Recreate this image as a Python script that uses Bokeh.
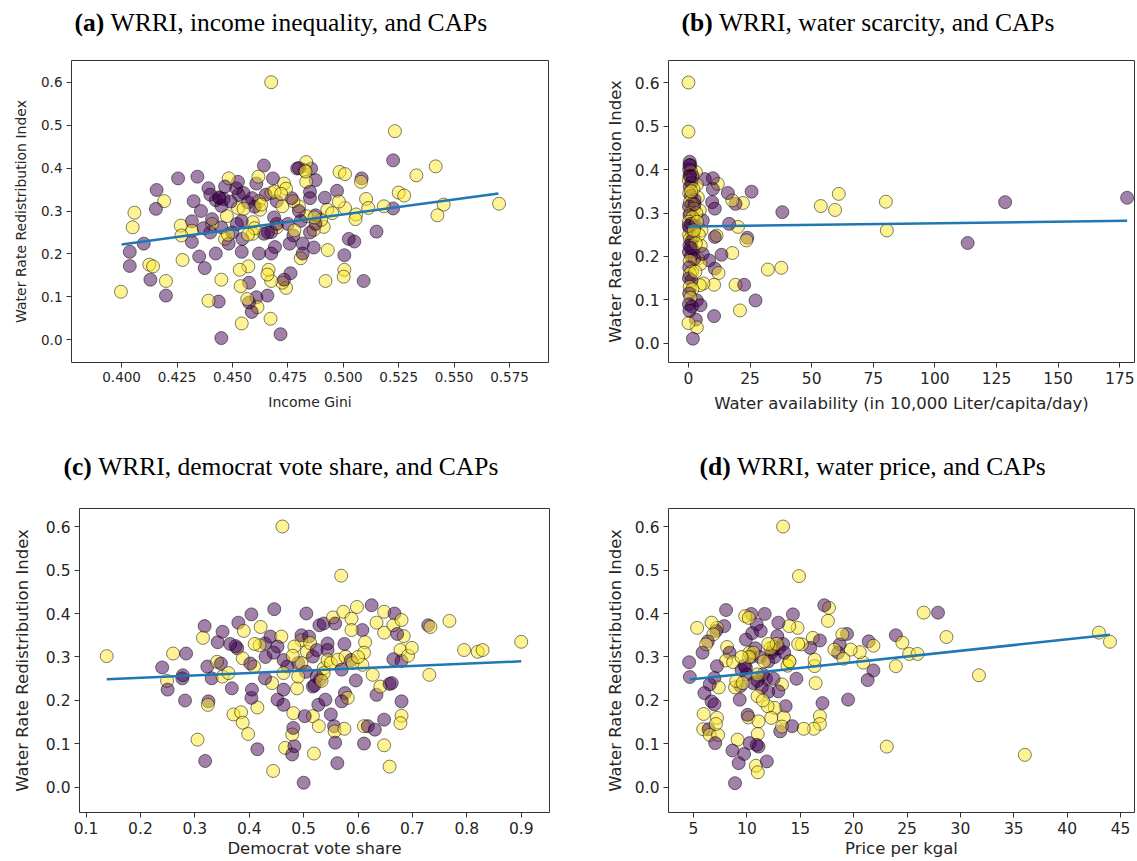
from bokeh.plotting import figure
from bokeh.layouts import column, row
from bokeh.models import ColumnDataSource, Range1d, FixedTicker, PrintfTickFormatter
from bokeh.core.properties import value
from bokeh.embed import file_html
from bokeh.resources import INLINE

# ---------------- DATA ----------------
# cap flag: 1 = city with CAP (yellow), 0 = no CAP (purple)
a_x = [0.4675,0.5233,0.5225,0.5417,0.5330,0.5250,0.5275,0.5453,0.5425,0.5703,0.5225,0.5150,0.5183,0.5103,0.5113,0.5083,0.5080,0.4983,0.5008,0.5008,0.5058,0.5055,0.5025,0.5050,0.5005,0.5005,0.5002,0.5092,0.4920,0.4930,0.4928,0.4917,0.4972,0.4980,0.4912,0.4900,0.4867,0.4867,0.4875,0.4875,0.4855,0.4833,0.4825,0.4792,0.4833,0.4850,0.4850,0.4833,0.4808,0.4800,0.4775,0.4767,0.4775,0.4758,0.4817,0.4808,0.4817,0.4762,0.4742,0.4725,0.4733,0.4717,0.4675,0.4663,0.4658,0.4672,0.4658,0.4675,0.4683,0.4733,0.4742,0.4700,0.4725,0.4688,0.4700,0.4675,0.4692,0.4675,0.4642,0.4642,0.4608,0.4617,0.4620,0.4625,0.4588,0.4592,0.4592,0.4620,0.4608,0.4613,0.4587,0.4575,0.4567,0.4575,0.4572,0.4533,0.4537,0.4542,0.4542,0.4545,0.4542,0.4525,0.4528,0.4517,0.4525,0.4483,0.4467,0.4442,0.4475,0.4450,0.4467,0.4483,0.4450,0.4438,0.4392,0.4450,0.4425,0.4392,0.4400,0.4408,0.4408,0.4358,0.4342,0.4325,0.4317,0.4350,0.4375,0.4317,0.4317,0.4267,0.4270,0.4255,0.4275,0.4200,0.4200,0.4192,0.4158,0.4155,0.4125,0.4142,0.4130,0.4100,0.4058,0.4050,0.4037,0.4037,0.3997,
       0.4425,0.4450,0.4492,0.4550,0.4570,0.4600,0.4650,0.4700,0.4660,0.4750,0.4800,0.4850,0.4875,0.4400,0.4370,0.4500,0.4520,0.4440,0.4460,0.4800,0.4830,0.4690,0.4720,0.4630,0.4550,0.4480,0.4600,0.4780,0.4870,0.4950,0.4570]
a_y = [0.600,0.486,0.418,0.404,0.383,0.343,0.336,0.315,0.290,0.317,0.306,0.252,0.311,0.328,0.307,0.376,0.368,0.391,0.386,0.307,0.292,0.281,0.235,0.229,0.197,0.163,0.147,0.137,0.137,0.209,0.303,0.331,0.347,0.322,0.263,0.279,0.215,0.256,0.290,0.372,0.399,0.414,0.395,0.399,0.368,0.345,0.330,0.288,0.277,0.311,0.323,0.330,0.243,0.224,0.224,0.190,0.201,0.155,0.121,0.133,0.140,0.013,0.137,0.163,0.152,0.049,0.103,0.342,0.376,0.364,0.352,0.323,0.311,0.285,0.262,0.251,0.216,0.201,0.247,0.406,0.364,0.380,0.323,0.303,0.330,0.274,0.247,0.201,0.099,0.076,0.065,0.087,0.095,0.133,0.171,0.163,0.125,0.038,0.205,0.235,0.277,0.307,0.338,0.353,0.368,0.376,0.357,0.330,0.288,0.262,0.235,0.224,0.140,0.089,0.091,0.004,0.201,0.353,0.338,0.270,0.281,0.300,0.380,0.323,0.276,0.194,0.167,0.254,0.228,0.266,0.243,0.376,0.186,0.137,0.103,0.323,0.349,0.305,0.175,0.171,0.140,0.224,0.296,0.262,0.205,0.172,0.112,
       0.325,0.312,0.322,0.342,0.320,0.310,0.338,0.270,0.250,0.270,0.300,0.250,0.270,0.250,0.260,0.250,0.270,0.332,0.328,0.400,0.392,0.345,0.340,0.315,0.305,0.245,0.260,0.255,0.285,0.295,0.245]
a_cap = [1,1,0,1,1,1,1,1,1,1,0,0,1,1,1,0,1,1,1,1,1,1,0,0,0,1,1,0,1,1,1,0,0,1,1,1,0,1,0,0,0,1,1,0,1,0,0,1,0,1,1,0,0,0,0,1,0,0,1,1,0,0,1,1,1,1,0,1,0,1,1,0,1,0,1,0,0,0,0,0,0,1,1,1,0,1,1,0,0,1,0,0,1,0,1,1,1,1,0,0,0,1,0,0,0,1,0,0,1,0,1,0,1,0,1,0,0,0,0,1,0,0,0,0,0,0,0,1,0,1,1,0,1,1,0,1,0,0,1,1,0,0,1,1,0,0,1,
         0,0,0,0,0,0,0,0,0,0,0,0,0,0,0,0,0,0,0,0,1,1,1,1,1,1,1,1,1,1,1]

b_x = [0,0,178,128.5,113.3,80.1,80.5,61,59.5,53.7,38.1,37.7,32.2,27.2,20.9,25.6,22.1,23.9,23.5,20.1,19.1,17.8,16,16.5,17.8,13.4,19.1,22.6,11.9,9.9,9.9,9.6,10.7,11.4,10.7,8.4,10.7,12.2,10.4,10.4,6.6,3.0,3.4,3.8,4.6,5.8,5.3,5.0,3.8,4.9,5.8,6.1,4.6,3.4,4.9,3.0,3.4,1.8,0,
       0.5,0.8,0.3,1.0,0.4,0.2,1.2,0.5,2.0,0.3,1.0,2.5,0.6,1.5,0.2,2.2,0.8,3.2,0.4,1.6,0.2,1.0,2.6,0.5,1.4,0.3,2.0,0.6,1.2,0.4,1.8,0.2,1.0,2.4,0.5,0.3,1.4,0.6,0.2,1.2,0.5,1.6,0.3,0.8,0.2,1.4,0.4,2.4,3.5,4.2,3.0,2.8,0.7,1.1,0.9,0.1,2.2,1.7,0.4]
b_y = [0.600,0.487,0.335,0.325,0.231,0.326,0.260,0.344,0.307,0.316,0.302,0.174,0.170,0.099,0.076,0.349,0.323,0.243,0.237,0.268,0.321,0.329,0.346,0.275,0.208,0.204,0.135,0.135,0.367,0.380,0.355,0.325,0.310,0.248,0.245,0.191,0.172,0.162,0.135,0.063,0.378,0.394,0.365,0.336,0.306,0.283,0.260,0.225,0.195,0.183,0.206,0.138,0.134,0.099,0.088,0.055,0.037,0.011,0.047,
       0.418,0.410,0.400,0.395,0.385,0.375,0.370,0.360,0.355,0.345,0.340,0.330,0.325,0.320,0.315,0.310,0.300,0.300,0.295,0.290,0.280,0.275,0.270,0.265,0.255,0.250,0.245,0.240,0.235,0.225,0.215,0.210,0.200,0.195,0.190,0.175,0.165,0.160,0.150,0.145,0.130,0.125,0.115,0.105,0.090,0.085,0.075,0.320,0.280,0.250,0.230,0.165,0.385,0.350,0.220,0.270,0.260,0.385,0.410]
b_cap = [1,1,0,0,0,1,1,1,1,1,0,1,1,0,1,0,1,0,1,1,0,1,0,0,1,0,1,0,1,0,0,0,0,1,0,0,0,1,1,0,0,1,1,1,1,0,1,1,1,1,0,1,1,0,0,0,1,0,1,
         0,0,0,1,0,1,0,0,1,1,0,0,1,1,0,1,1,1,0,1,1,0,0,0,1,1,0,1,0,0,0,0,0,0,1,0,1,1,0,0,1,1,0,1,0,0,0,0,1,1,1,1,0,1,0,0,1,0,0]

c_x = [0.461,0.569,0.138,0.240,0.260,0.284,0.249,0.250,0.277,0.278,0.282,0.305,0.319,0.325,0.324,0.318,0.315,0.323,0.331,0.341,0.342,0.351,0.351,0.368,0.371,0.385,0.388,0.398,0.415,0.415,0.404,0.405,0.404,0.380,0.421,0.446,0.444,0.466,0.483,0.479,0.479,0.481,0.481,0.452,0.463,0.463,0.442,0.488,0.500,0.519,0.505,0.529,0.496,0.496,0.506,0.517,0.517,0.502,0.528,0.527,0.540,0.530,0.517,0.537,0.544,0.537,0.554,0.558,0.573,0.598,0.625,0.608,0.588,0.588,0.613,0.611,0.608,0.627,0.596,0.576,0.581,0.570,0.550,0.556,0.557,0.575,0.558,0.562,0.611,0.618,0.611,0.648,0.658,0.648,0.631,0.634,0.641,0.658,0.662,0.680,0.678,0.680,0.648,0.648,0.634,0.667,0.665,0.680,0.684,0.672,0.678,0.665,0.680,0.692,0.699,0.729,0.733,0.731,0.768,0.795,0.820,0.829,0.900,
       0.378,0.375,0.390,0.388,0.429,0.419,0.439,0.459,0.452,0.463,0.470,0.463,0.409,0.402,0.348,0.362,0.429,0.483,0.490,0.496,0.510,0.512,0.524,0.544,0.544,0.550,0.563,0.577,0.587,0.590,0.570,0.537,0.524,0.504,0.490,0.430,0.445,0.410,0.365,0.520,0.533,0.480,0.600,0.575]
c_y = [0.600,0.487,0.302,0.276,0.308,0.308,0.245,0.225,0.251,0.258,0.200,0.110,0.061,0.198,0.190,0.371,0.344,0.278,0.251,0.289,0.334,0.358,0.255,0.228,0.168,0.173,0.149,0.123,0.088,0.184,0.206,0.225,0.398,0.379,0.369,0.410,0.038,0.091,0.095,0.076,0.122,0.137,0.171,0.202,0.190,0.225,0.240,0.228,0.011,0.078,0.400,0.373,0.339,0.350,0.312,0.301,0.164,0.164,0.141,0.190,0.202,0.248,0.232,0.274,0.331,0.377,0.391,0.377,0.404,0.415,0.419,0.362,0.388,0.362,0.334,0.310,0.282,0.259,0.246,0.217,0.206,0.198,0.168,0.141,0.129,0.135,0.103,0.056,0.141,0.141,0.101,0.097,0.048,0.156,0.133,0.213,0.232,0.238,0.240,0.165,0.148,0.198,0.404,0.356,0.379,0.400,0.373,0.385,0.348,0.353,0.316,0.295,0.291,0.303,0.321,0.373,0.369,0.259,0.383,0.316,0.312,0.316,0.335,
       0.320,0.325,0.360,0.297,0.331,0.327,0.347,0.347,0.324,0.293,0.278,0.263,0.278,0.285,0.285,0.263,0.251,0.324,0.286,0.286,0.347,0.332,0.316,0.316,0.293,0.286,0.294,0.301,0.293,0.286,0.271,0.263,0.255,0.266,0.255,0.300,0.310,0.330,0.330,0.235,0.245,0.303,0.300,0.330]
c_cap = [1,1,1,0,1,0,1,0,0,0,0,1,0,0,1,0,1,0,0,1,0,0,1,0,1,1,1,1,0,1,0,0,0,0,1,0,1,1,0,0,1,0,1,0,0,0,1,1,0,1,0,0,1,0,1,0,1,0,1,0,0,0,0,1,0,0,1,0,1,1,0,0,1,1,1,1,1,1,0,0,1,0,0,0,1,1,0,0,1,0,0,1,1,0,0,0,1,0,0,1,1,0,1,1,1,0,1,1,1,0,1,0,0,1,1,0,1,1,1,1,1,1,1,
         0,0,1,1,0,1,0,1,0,0,0,1,1,0,0,1,0,1,0,1,0,1,0,0,1,1,1,1,0,1,0,1,0,0,1,0,0,1,0,0,1,1,1,0]

d_x = [13.39,14.88,36.03,23.10,31.73,42.97,44.00,27.90,26.56,28.69,23.95,24.56,25.20,25.98,23.95,21.85,21.41,21.31,21.85,20.90,20.57,19.72,19.48,19.38,18.94,18.70,18.54,18.20,19.04,17.59,17.69,17.25,17.08,16.84,16.84,16.27,15.32,16.44,16.34,16.34,16.17,16.84,15.93,15.15,14.75,14.31,13.97,14.64,13.97,13.63,13.46,13.12,13.29,14.24,12.61,11.94,12.28,12.95,12.85,12.44,12.51,13.29,12.95,11.67,10.92,10.41,9.84,10.18,9.91,10.25,9.91,9.40,9.33,10.14,10.07,11.09,11.02,11.09,10.92,10.85,11.02,11.87,10.25,9.74,9.23,9.13,8.89,8.65,8.89,8.05,8.15,8.38,8.05,8.72,7.88,7.20,7.13,6.69,6.86,6.35,6.18,5.85,5.34,4.59,4.66,7.20,6.96,7.37,6.52,6.02,6.69,6.96,5.95,5.91,6.42,6.52,7.30,7.20,7.10,7.03,
       9.5,9.8,10.0,10.4,10.8,11.2,11.5,11.8,12.0,12.3,12.6,13.0,13.4,10.6,11.0,11.4,12.0,12.5,9.0,9.6,10.6,11.0,11.6,12.2,12.8,13.8,14.0,10.2,11.0,11.5,10.5,11.3,12.0,9.5,13.5,14.8]
d_y = [0.600,0.486,0.075,0.094,0.258,0.356,0.335,0.402,0.402,0.346,0.350,0.333,0.307,0.307,0.279,0.269,0.336,0.247,0.326,0.287,0.311,0.317,0.202,0.353,0.352,0.329,0.310,0.317,0.296,0.383,0.413,0.419,0.194,0.164,0.146,0.135,0.135,0.240,0.279,0.294,0.344,0.338,0.321,0.329,0.367,0.398,0.371,0.250,0.290,0.187,0.161,0.129,0.140,0.141,0.183,0.187,0.160,0.379,0.348,0.317,0.323,0.237,0.221,0.399,0.375,0.399,0.394,0.390,0.340,0.310,0.275,0.233,0.202,0.161,0.167,0.152,0.123,0.094,0.098,0.050,0.035,0.060,0.102,0.077,0.056,0.110,0.010,0.085,0.230,0.408,0.323,0.310,0.292,0.288,0.371,0.367,0.360,0.379,0.352,0.336,0.329,0.310,0.367,0.288,0.254,0.279,0.252,0.230,0.237,0.217,0.198,0.191,0.169,0.134,0.134,0.121,0.121,0.160,0.146,0.102,
       0.270,0.280,0.260,0.300,0.320,0.300,0.260,0.250,0.290,0.310,0.300,0.320,0.330,0.240,0.245,0.230,0.220,0.250,0.245,0.240,0.310,0.260,0.290,0.320,0.330,0.280,0.290,0.300,0.210,0.200,0.355,0.360,0.330,0.300,0.310,0.330]
d_cap = [1,1,1,1,1,1,1,0,1,1,0,1,1,1,1,0,0,0,1,1,1,1,0,0,1,0,0,1,1,1,1,0,0,1,1,1,1,1,1,1,1,0,0,1,1,0,1,0,1,0,1,0,1,0,1,1,1,0,0,0,1,1,0,0,0,0,1,1,0,1,0,0,0,1,0,1,1,0,0,1,1,0,0,0,0,1,0,0,1,0,1,0,1,1,0,1,0,1,1,0,1,0,1,0,0,0,0,1,0,0,0,0,1,1,0,1,1,1,1,0,
         0,0,0,0,0,0,0,0,0,0,0,0,0,0,0,0,0,0,1,1,1,1,1,1,1,1,1,1,1,1,0,0,1,1,0,1]

# fitted regression lines
a_fit_x = [0.400, 0.570]; a_fit_y = [0.222, 0.341]
b_fit_x = [0.0, 178.0];   b_fit_y = [0.269, 0.282]
c_fit_x = [0.138, 0.900]; c_fit_y = [0.249, 0.290]
d_fit_x = [4.66, 44.0];   d_fit_y = [0.248, 0.351]

y_ticks = [0.0, 0.1, 0.2, 0.3, 0.4, 0.5, 0.6]
a_ticks = [0.400, 0.425, 0.450, 0.475, 0.500, 0.525, 0.550, 0.575]
b_ticks = [0, 25, 50, 75, 100, 125, 150, 175]
c_ticks = [0.1, 0.2, 0.3, 0.4, 0.5, 0.6, 0.7, 0.8, 0.9]
d_ticks = [5, 10, 15, 20, 25, 30, 35, 40, 45]

y_label = "Water Rate Redistribution Index"
title_tags = ["(a)", "(b)", "(c)", "(d)"]
title_texts = ["WRRI, income inequality, and CAPs",
               "WRRI, water scarcity, and CAPs",
               "WRRI, democrat vote share, and CAPs",
               "WRRI, water price, and CAPs"]
x_labels = ["Income Gini", "Water availability (in 10,000 Liter/capita/day)",
            "Democrat vote share", "Price per kgal"]

# ---------------- STYLE ----------------
PURPLE = "#440154"
YELLOW = "#fde725"
TXT = "#262626"
SANS = "DejaVu Sans"
SERIF = "Liberation Serif"
TFS = "25.5px"


def title_strip(w, h, tag, text, x_tag, x_text, base_y):
    t = figure(width=w, height=h, x_range=Range1d(0, w), y_range=Range1d(0, h),
               output_backend="svg", toolbar_location=None, title=None,
               x_axis_type=None, y_axis_type=None,
               min_border_left=0, min_border_right=0, min_border_top=0, min_border_bottom=0)
    t.outline_line_color = None
    t.xgrid.visible = False
    t.ygrid.visible = False
    t.text(x=[x_tag], y=[base_y], text=[tag], text_font=value(SERIF), text_font_size=value(TFS),
           text_font_style="bold", text_color="black", text_align="left", text_baseline="alphabetic")
    t.text(x=[x_text], y=[base_y], text=[text], text_font=value(SERIF), text_font_size=value(TFS),
           text_font_style="normal", text_color="black", text_align="left", text_baseline="alphabetic")
    return t


def panel(xs, ys, caps, fx, fy, xr, yr, xticks, xfmt, w, h, bl, br, bt, bb,
          tick_fs, lab_fs, xlabel, ylab_standoff, xlab_standoff):
    p = figure(width=w, height=h, x_range=Range1d(*xr), y_range=Range1d(*yr),
               output_backend="svg", toolbar_location=None,
               min_border_left=bl, min_border_right=br, min_border_top=bt, min_border_bottom=bb)
    p.title.visible = False
    p.outline_line_color = "#333333"
    p.outline_line_width = 1
    p.xgrid.visible = False
    p.ygrid.visible = False
    src = ColumnDataSource(dict(x=xs, y=ys, c=[YELLOW if k else PURPLE for k in caps]))
    p.scatter("x", "y", source=src, size=13, fill_color="c", fill_alpha=0.5,
              line_color="black", line_alpha=0.5, line_width=1)
    p.line(fx, fy, line_color="#1f77b4", line_width=2.5)

    p.xaxis.ticker = FixedTicker(ticks=xticks)
    p.xaxis.formatter = PrintfTickFormatter(format=xfmt)
    p.yaxis.ticker = FixedTicker(ticks=y_ticks)
    p.yaxis.formatter = PrintfTickFormatter(format="%.1f")
    for ax in (p.xaxis[0], p.yaxis[0]):
        ax.axis_line_color = None
        ax.major_tick_line_color = "#333333"
        ax.major_tick_out = 5
        ax.major_tick_in = 0
        ax.minor_tick_line_color = None
        ax.major_label_text_font = SANS
        ax.major_label_text_font_size = tick_fs
        ax.major_label_text_color = TXT
        ax.axis_label_text_font = SANS
        ax.axis_label_text_font_size = lab_fs
        ax.axis_label_text_font_style = "normal"
        ax.axis_label_text_color = TXT
        ax.major_label_standoff = 4
    p.xaxis.axis_label = xlabel
    p.yaxis.axis_label = y_label
    p.yaxis.axis_label_standoff = ylab_standoff
    p.xaxis.axis_label_standoff = xlab_standoff
    return p


# title strips
ta = title_strip(570, 40, title_tags[0], title_texts[0], 74, 110.1, 18)
tb = title_strip(566, 40, title_tags[1], title_texts[1], 111, 148.5, 18)
tc = title_strip(570, 54, title_tags[2], title_texts[2], 63, 97.7, 18)
td = title_strip(566, 54, title_tags[3], title_texts[3], 129, 166.5, 18)

# panels (frames: a 71..548 x 60..367 ; b 668..1134 x 60..362 ; c 79..549 x 508..812 ; d 668..1134 x 508..812)
pa = panel(a_x, a_y, a_cap, a_fit_x, a_fit_y, (0.3774, 0.5926), (-0.0529, 0.6506), a_ticks, "%.3f",
           570, 390, 71, 22, 20, 63, "13.5px", "14px", x_labels[0], 9, 9)
pb = panel(b_x, b_y, b_cap, b_fit_x, b_fit_y, (-8.1, 181.0), (-0.0437, 0.6506), b_ticks, "%d",
           566, 390, 98, 2, 20, 68, "15.5px", "16.5px", x_labels[1], 7, 7)
pc = panel(c_x, c_y, c_cap, c_fit_x, c_fit_y, (0.088, 0.952), (-0.0575, 0.6414), c_ticks, "%.1f",
           570, 376, 79, 21, 24, 48, "15.5px", "16.5px", x_labels[2], 11, 2)
pd_ = panel(d_x, d_y, d_cap, d_fit_x, d_fit_y, (2.66, 46.3), (-0.0575, 0.6414), d_ticks, "%d",
            566, 376, 98, 2, 24, 48, "15.5px", "16.5px", x_labels[3], 7, 2)

layout = column(row(ta, tb), row(pa, pb), row(tc, td), row(pc, pd_))
open("out.html", "w").write(file_html(layout, INLINE))
